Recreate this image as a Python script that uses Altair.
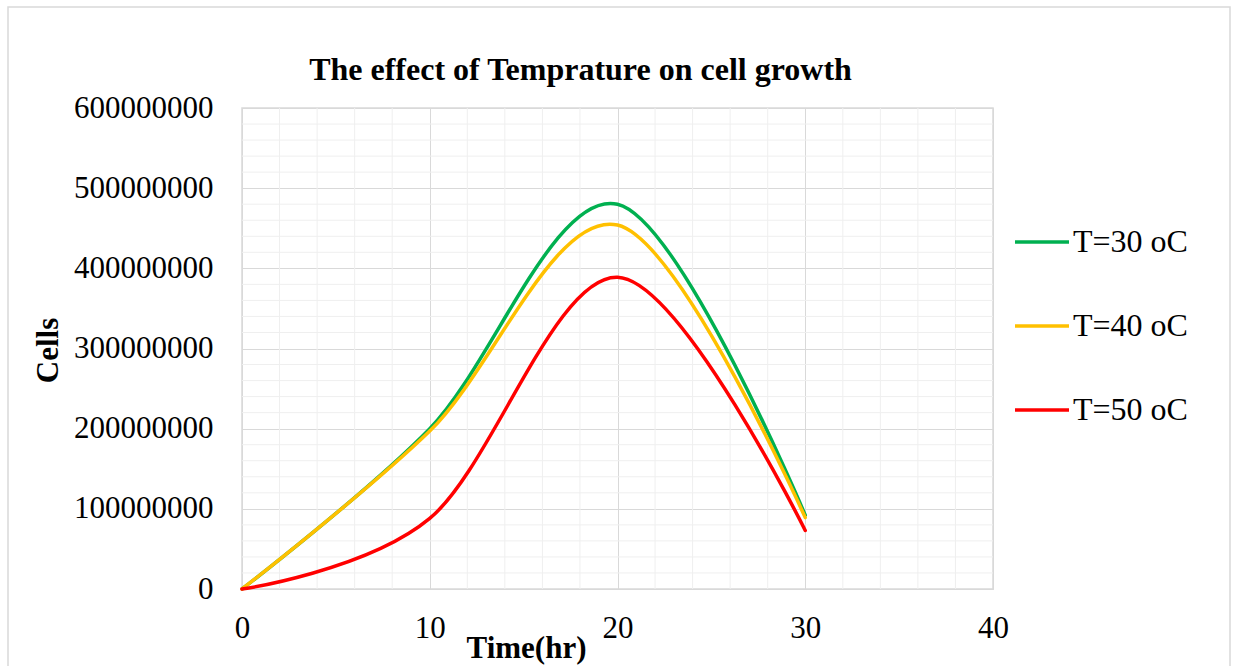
import altair as alt
import pandas as pd

# ---- data ----
time_hr = [0, 10, 20, 30]
t30 = [0, 200e6, 480e6, 92e6]
t40 = [0, 197e6, 454e6, 89e6]
t50 = [0, 88e6, 389e6, 73e6]
series = ["T=30 oC", "T=40 oC", "T=50 oC"]
colors = ["#00B050", "#FFC000", "#FF0000"]

x_ticks = [0, 10, 20, 30, 40]
y_ticks = [0, 100000000, 200000000, 300000000, 400000000, 500000000, 600000000]
x_minor = [2, 4, 6, 8, 12, 14, 16, 18, 22, 24, 26, 28, 32, 34, 36, 38]
y_minor = [v * 1000000 for v in range(20, 600, 20) if v % 100 != 0]

rows = []
for name, vals in zip(series, [t30, t40, t50]):
    for t, v in zip(time_hr, vals):
        rows.append({"Time": t, "Cells": v, "Series": name})
df = pd.DataFrame(rows)

FONT = "Liberation Serif"
minor_color = "#efefef"
major_color = "#d9d9d9"

xscale = alt.Scale(domain=[0, 40], nice=False, zero=False)
yscale = alt.Scale(domain=[0, 600000000], nice=False)

x_axis = alt.Axis(
    values=x_ticks,
    title="Time(hr)",
    titleFont=FONT,
    titleFontSize=31,
    titleFontWeight="bold",
    titleColor="black",
    titleX=284,
    titleY=68,
    titleAlign="center",
    titleBaseline="alphabetic",
    labelFont=FONT,
    labelFontSize=31,
    labelColor="black",
    labelPadding=48,
    labelBaseline="alphabetic",
    labelFlush=False,
    labelOverlap=False,
    ticks=False,
    tickSize=0,
    domainColor=major_color,
    gridColor=major_color,
)
y_axis = alt.Axis(
    values=y_ticks,
    format="d",
    title="Cells",
    titleFont=FONT,
    titleFontSize=31,
    titleFontWeight="bold",
    titleColor="black",
    titleAngle=270,
    titleX=-185,
    titleY=242,
    titleAlign="center",
    titleBaseline="alphabetic",
    labelFont=FONT,
    labelFontSize=31,
    labelColor="black",
    labelPadding=29,
    labelOverlap=False,
    ticks=False,
    tickSize=0,
    domainColor=major_color,
    gridColor=major_color,
)

vgrid = alt.Chart(pd.DataFrame({"Time": x_minor})).mark_rule(
    color=minor_color, strokeWidth=1
).encode(x=alt.X("Time:Q", scale=xscale, axis=x_axis))

hgrid = alt.Chart(pd.DataFrame({"Cells": y_minor})).mark_rule(
    color=minor_color, strokeWidth=1
).encode(y=alt.Y("Cells:Q", scale=yscale, axis=y_axis))

border = alt.Chart(pd.DataFrame({"a": [0]})).mark_rect(
    fillOpacity=0, stroke=major_color, strokeWidth=1.5, clip=False
).encode(
    x=alt.value(-234), x2=alt.value(988), y=alt.value(-101), y2=alt.value(575)
)

lines = alt.Chart(df).mark_line(
    interpolate="cardinal", strokeWidth=3.5, strokeCap="round", clip=False
).encode(
    x=alt.X("Time:Q", scale=xscale, axis=x_axis),
    y=alt.Y("Cells:Q", scale=yscale, axis=y_axis),
    color=alt.Color(
        "Series:N",
        scale=alt.Scale(domain=series, range=colors),
        legend=alt.Legend(
            title=None,
            orient="none",
            legendX=771,
            legendY=105,
            symbolType="stroke",
            symbolSize=2916,
            symbolStrokeWidth=3.5,
            labelFont=FONT,
            labelFontSize=32,
            labelColor="black",
            labelOffset=2,
            labelLimit=400,
            rowPadding=39,
            padding=0,
        ),
    ),
)

chart = alt.layer(border, vgrid, hgrid, lines).properties(
    width=751,
    height=481,
    autosize=alt.AutoSizeParams(type="none"),
    padding={"left": 242, "top": 108, "right": 240, "bottom": 77},
    background="white",
    title=alt.Title(
        "The effect of Temprature on cell growth",
        font=FONT,
        fontSize=32,
        fontWeight="bold",
        color="black",
        anchor="middle",
        frame="group",
        dx=-37,
        dy=106,
        offset=0,
        baseline="alphabetic",
    ),
).configure_view(stroke=major_color, strokeWidth=1.5)

chart.save("out.html", embed_options={"renderer": "svg", "actions": False})
